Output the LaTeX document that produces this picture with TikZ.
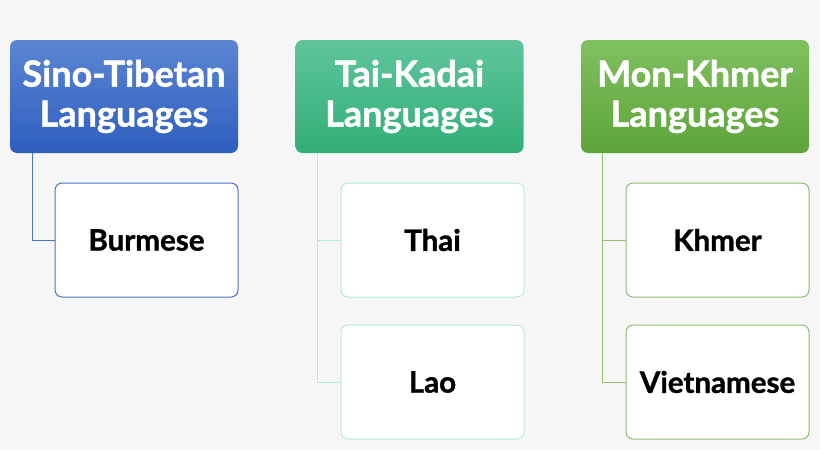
\documentclass[tikz,border=0pt]{standalone}
\usepackage{fontspec}
\setmainfont{Lato}[BoldFeatures={FakeBold=1.2}]
\definecolor{bg}{HTML}{F6F6F6}
\definecolor{bluetop}{HTML}{5C86D3}
\definecolor{bluebot}{HTML}{2E5EBF}
\definecolor{blueline}{HTML}{4A74C6}
\definecolor{teatop}{HTML}{5FC59C}
\definecolor{teabot}{HTML}{33AF78}
\definecolor{tealine}{HTML}{B2F0D2}
\definecolor{grntop}{HTML}{80C060}
\definecolor{grnbot}{HTML}{5EA43A}
\definecolor{grnline}{HTML}{8CC16C}
\tikzset{
  head/.style={rounded corners=7pt, minimum width=228pt, minimum height=113pt,
    inner sep=0pt, align=center, text=white,
    font=\fontsize{36}{40}\selectfont\bfseries},
  leaf/.style={draw, line width=1pt, fill=white, rounded corners=7pt,
    minimum width=183pt, minimum height=114pt, inner sep=0pt,
    font=\fontsize{29.5}{32}\selectfont\bfseries}
}
\begin{document}
\begin{tikzpicture}[x=1pt,y=-1pt]
  \fill[bg] (0,0) rectangle (820,450);
  \path
    (124,96.5) node[head, top color=bluetop, bottom color=bluebot] (st){Sino-Tibetan\\Languages}
    (409.5,96.5) node[head, top color=teatop, bottom color=teabot] (tk){Tai-Kadai\\Languages}
    (695,96.5) node[head, top color=grntop, bottom color=grnbot] (mk){Mon-Khmer\\Languages};
  \path
    (146.5,240) node[leaf, draw=blueline] (bur){Burmese}
    (432.5,240) node[leaf, draw=tealine] (tha){Thai}
    (432.5,382) node[leaf, draw=tealine] (lao){Lao}
    (717.5,240) node[leaf, draw=grnline] (khm){Khmer}
    (717.5,382) node[leaf, draw=grnline] (vie){Vietnamese};
  \begin{scope}[line width=1pt]
    \draw[blueline] (st.south west) ++(23,0) |- (bur.west);
    \draw[tealine] (tk.south west) ++(22,0) |- (tha.west);
    \draw[tealine] (tk.south west) ++(22,0) |- (lao.west);
    \draw[grnline] (mk.south west) ++(22,0) |- (khm.west);
    \draw[grnline] (mk.south west) ++(22,0) |- (vie.west);
  \end{scope}
\end{tikzpicture}
\end{document}
